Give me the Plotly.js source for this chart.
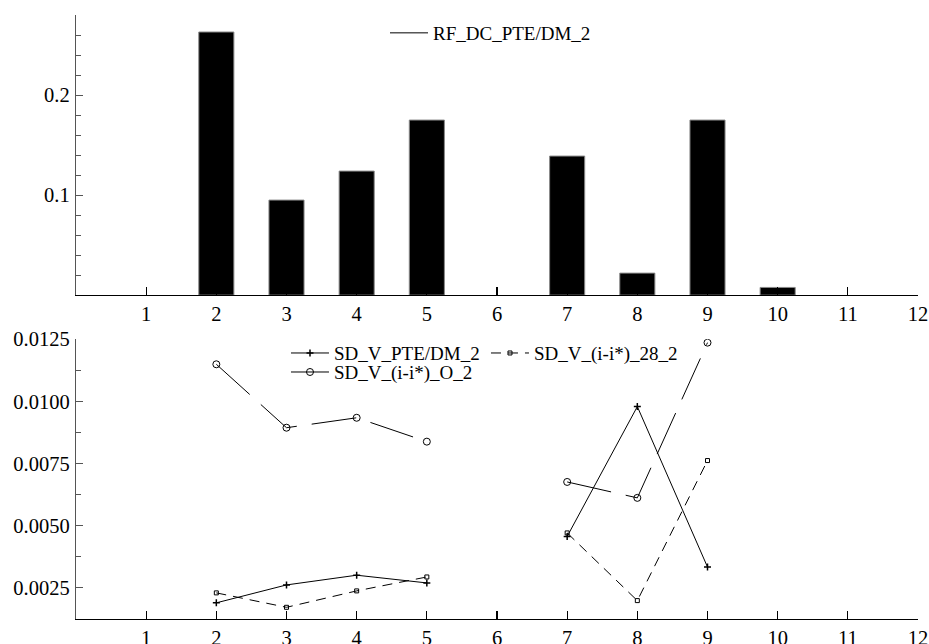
<!DOCTYPE html>
<html>
<head>
<meta charset="utf-8">
<script src="https://cdn.plot.ly/plotly-3.0.1.min.js"></script>
<style>html,body{margin:0;padding:0;background:#fff;}#chart{width:929px;height:644px;}</style>
</head>
<body>
<div id="chart"></div>
<script>
// ---- data ----
const categories = [1, 2, 3, 4, 5, 6, 7, 8, 9, 10, 11, 12];
const rfDcPteDm2 = [null, 0.263, 0.095, 0.124, 0.175, null, 0.139, 0.022, 0.175, 0.0077, null, null];
const sdVPteDm2 = [null, 0.0019, 0.00262, 0.00301, 0.0027, null, 0.00457, 0.00979, 0.00334, null, null, null];
const sdVO2 = [null, 0.01149, 0.00894, 0.00934, 0.00838, null, 0.00676, 0.00612, 0.01236, null, null, null];
const sdV28_2 = [null, 0.0023, 0.00172, 0.00238, 0.00294, null, 0.00471, 0.00199, 0.00762, null, null, null];
const topTickVals = [0.1, 0.2];
const bottomTickVals = [0.0025, 0.005, 0.0075, 0.01, 0.0125];

const FONT = 'Liberation Serif';
const TICKSIZE = 20.5;

const traces = [
  {
    type: 'bar', x: categories, y: rfDcPteDm2, xaxis: 'x', yaxis: 'y',
    width: 0.5, marker: {color: '#000', line: {color: '#888', width: 1}},
    showlegend: false, hoverinfo: 'skip'
  },
  {
    type: 'scatter', mode: 'lines', x: [null], y: [null], xaxis: 'x', yaxis: 'y',
    name: 'RF_DC_PTE/DM_2', line: {color: '#000', width: 1}, legend: 'legend4'
  },
  {
    type: 'scatter', mode: 'lines+markers', x: categories, y: sdVPteDm2, xaxis: 'x2', yaxis: 'y2',
    name: 'SD_V_PTE/DM_2', line: {color: '#000', width: 1},
    marker: {symbol: 'cross-thin', size: 5, color: '#000', line: {color: '#000', width: 1.5}},
    legend: 'legend'
  },
  {
    type: 'scatter', mode: 'lines+markers', x: categories, y: sdVO2, xaxis: 'x2', yaxis: 'y2',
    name: 'SD_V_(i-i*)_O_2', line: {color: '#000', width: 1, dash: '45px,15px'},
    marker: {symbol: 'circle-open', size: 7, color: '#000', line: {color: '#000', width: 1}},
    legend: 'legend2'
  },
  {
    type: 'scatter', mode: 'lines+markers', x: categories, y: sdV28_2, xaxis: 'x2', yaxis: 'y2',
    name: 'SD_V_(i-i*)_28_2', line: {color: '#000', width: 1, dash: '10px,7px'},
    marker: {symbol: 'square-open', size: 4, color: '#000', line: {color: '#000', width: 1}},
    legend: 'legend3'
  }
];

function legendCfg(x, y) {
  return {
    x: x, y: y, xanchor: 'left', yanchor: 'middle', xref: 'paper', yref: 'paper',
    bgcolor: 'rgba(0,0,0,0)', borderwidth: 0, itemwidth: 38,
    font: {family: FONT, size: 19, color: '#000'}
  };
}

const xCommon = {
  range: [0, 12], tickmode: 'array', tickvals: categories,
  ticks: 'inside', ticklen: 8, tickwidth: 1.2, tickcolor: '#000',
  showline: true, linecolor: '#000', linewidth: 1.2,
  showgrid: false, zeroline: false, automargin: false,
  tickfont: {family: FONT, size: TICKSIZE, color: '#000'}
};

const layout = {
  width: 929, height: 644,
  margin: {l: 76, r: 11, t: 15, b: 25, pad: 0},
  paper_bgcolor: '#fff', plot_bgcolor: '#fff',
  font: {family: FONT, color: '#000'},
  bargap: 0,
  xaxis: Object.assign({}, xCommon, {domain: [0, 1], anchor: 'y'}),
  xaxis2: Object.assign({}, xCommon, {domain: [0, 1], anchor: 'y2'}),
  yaxis: {
    domain: [0.5362, 1], anchor: 'x', range: [0, 0.28],
    tickmode: 'array', tickvals: topTickVals, ticktext: topTickVals.map(v => v.toFixed(1)),
    ticks: 'inside', ticklen: 7, tickwidth: 1, tickcolor: '#555',
    minor: {tickmode: 'linear', tick0: 0, dtick: 0.02, ticks: 'inside', ticklen: 5, tickcolor: '#555', showgrid: false},
    showline: true, linecolor: '#555', linewidth: 1.2,
    showgrid: false, zeroline: false, automargin: false, ticklabelstandoff: 1,
    tickfont: {family: FONT, size: TICKSIZE, color: '#000'}
  },
  yaxis2: {
    domain: [0, 0.4633], anchor: 'x2', range: [0.00125, 0.0125],
    tickmode: 'array', tickvals: bottomTickVals, ticktext: bottomTickVals.map(v => v.toFixed(4)),
    ticks: 'inside', ticklen: 7, tickwidth: 1, tickcolor: '#555',
    minor: {tickmode: 'linear', tick0: 0, dtick: 0.00125, ticks: 'inside', ticklen: 5, tickcolor: '#555', showgrid: false},
    showline: true, linecolor: '#555', linewidth: 1.2,
    showgrid: false, zeroline: false, automargin: false, ticklabelstandoff: 1,
    tickfont: {family: FONT, size: TICKSIZE, color: '#000'}
  },
  legend: legendCfg(0.2494, 0.4402),
  legend2: legendCfg(0.2494, 0.4087),
  legend3: legendCfg(0.4869, 0.4402),
  legend4: legendCfg(0.367, 0.9702),
  showlegend: true
};

Plotly.newPlot('chart', traces, layout, {staticPlot: true, displayModeBar: false});
</script>
</body>
</html>
